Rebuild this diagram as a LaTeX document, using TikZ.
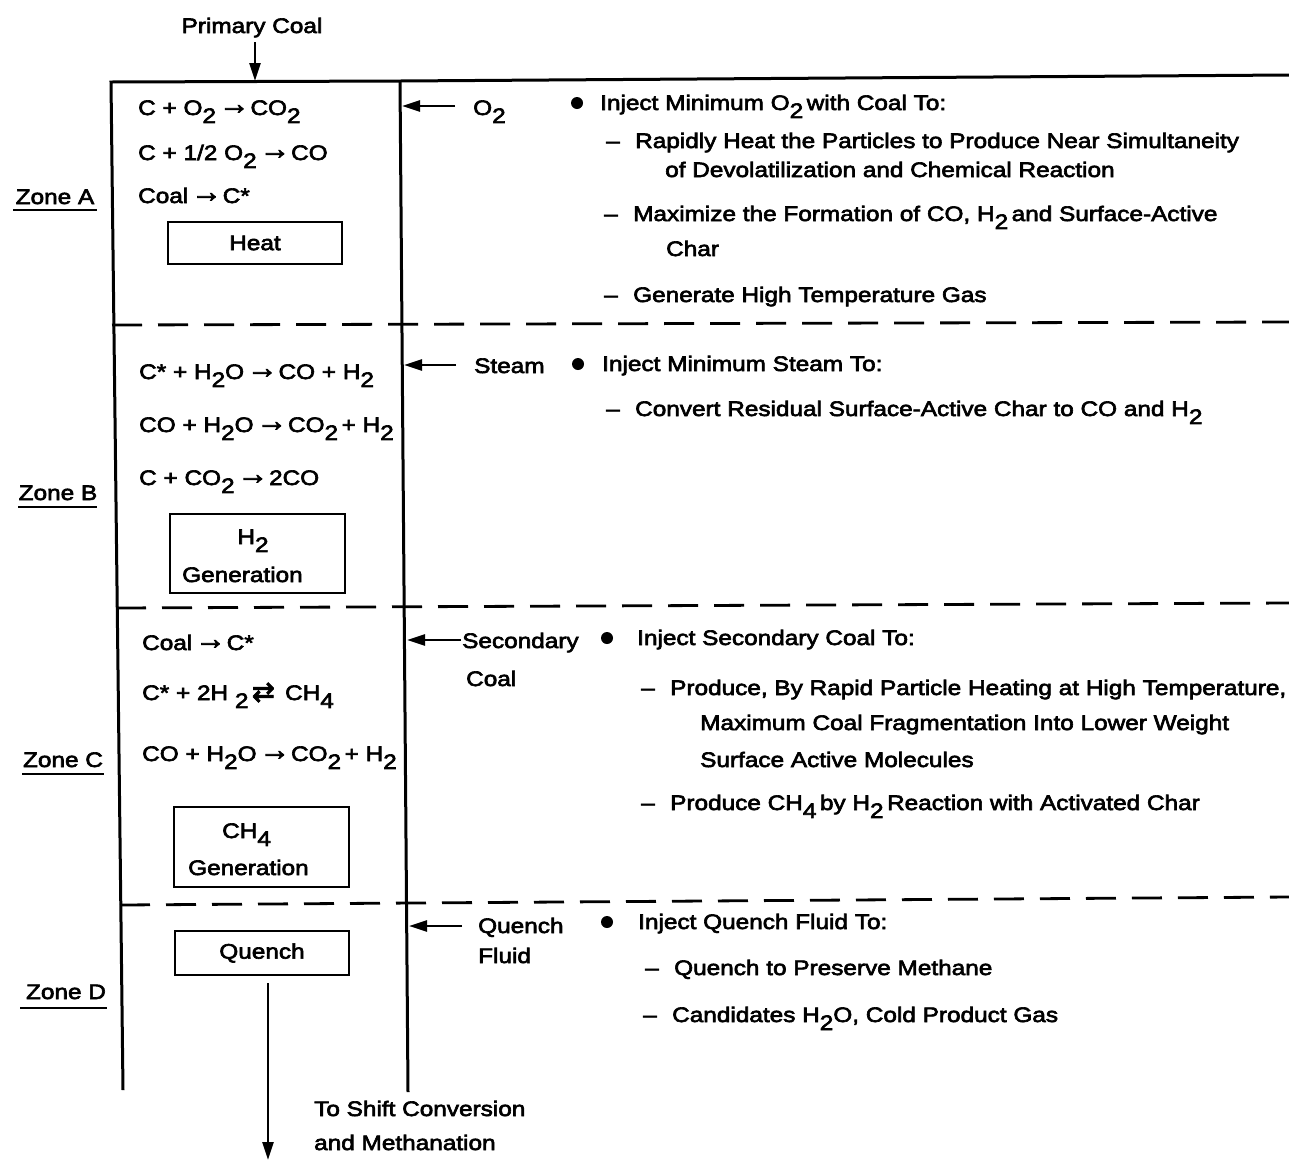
\documentclass[tikz,border=0pt]{standalone}
\usepackage{graphicx}
\usepackage{fontspec}
\setmainfont{Liberation Sans}[FakeStretch=1.16,FakeBold=3]
\newfontfamily\djv{DejaVu Sans}[FakeBold=3]
\usetikzlibrary{arrows.meta}
\newcommand{\sbs}[1]{\raisebox{-0.38em}{#1}}
\newcommand{\ra}{\hspace{3pt}\raisebox{0.05em}{\scalebox{1.25}[1.45]{→}}\hspace{1pt}}
\newcommand{\dsh}{\makebox[29pt][l]{–}}
\tikzset{
  txt/.style={font=\fontsize{21}{25}\selectfont, inner sep=0pt, anchor=base west},
  ctxt/.style={font=\fontsize{21}{25}\selectfont, inner sep=0pt, anchor=base},
  wall/.style={line width=3pt},
  zbox/.style={draw, line width=2.8pt, inner sep=0pt},
  arr/.style={line width=2.4pt, -{Triangle[length=18pt,width=11pt]}},
  zdash/.style={line width=2.8pt, dash pattern=on 30pt off 16pt},
  uline/.style={line width=2.6pt},
  bul/.style={circle, fill, inner sep=0pt, minimum size=12pt}
}
\begin{document}
\begin{tikzpicture}[x=1pt,y=-1pt]
\useasboundingbox (0,0) rectangle (1289,1160);

% reactor walls
\coordinate (tl) at (111,82);
\coordinate (tr) at (400,81);
\coordinate (bl) at (123,1090);
\coordinate (br) at (408,1092);
\coordinate (re) at (1289,75);
\draw[wall] (bl) -- (tl) -- (tr) -- (re);
\draw[wall] (tr) -- (br);

% zone boundaries
\draw[zdash] (112,325) -- (1289,322);
\draw[zdash] (116,608) -- (1289,603);
\draw[zdash] (120,905) -- (1289,897);

% primary coal
\node[ctxt] (pcoal) at (252,33) {Primary Coal};
\coordinate (pcin) at (255,81);
\draw[arr] (255,42) -- (pcin);

% zone labels
\node[ctxt] (zA) at (55,204) {Zone A};
\draw[uline] (13,210) -- (97,210);
\node[ctxt] (zB) at (58,500) {Zone B};
\draw[uline] (18,507) -- (97,507);
\node[ctxt] (zC) at (63,767) {Zone C};
\draw[uline] (22,774) -- (104,774);
\node[ctxt] (zD) at (66,999) {Zone D};
\draw[uline] (20,1008) -- (107,1008);

% Zone A equations
\node[txt] (a1) at (138,115) {C + O\sbs{2}\ra CO\sbs{2}};
\node[txt] (a2) at (138,160) {C + 1/2 O\sbs{2}\ra CO};
\node[txt] (a3) at (138,203) {Coal\ra C*};
\node[zbox, minimum width=174pt, minimum height=42pt, font=\fontsize{21}{25}\selectfont] (heat) at (255,243) {Heat};

% Zone B equations
\node[txt] (b1) at (139,379) {C* + H\sbs{2}O\ra CO + H\sbs{2}};
\node[txt] (b2) at (139,432) {CO + H\sbs{2}O\ra CO\sbs{2}\,+ H\sbs{2}};
\node[txt] (b3) at (139,485) {C + CO\sbs{2}\ra 2CO};
\node[zbox, minimum width=175pt, minimum height=79pt] (h2box) at (257.5,553.5) {};
\node[ctxt] (h2t) at (253,544) {H\sbs{2}};
\node[txt] (h2g) at (182,582) {Generation};

% Zone C equations
\node[txt] (c1) at (142,650) {Coal\ra C*};
\node[txt] (c2) at (142,700) {C* + 2H \sbs{2}\,\raisebox{-0.05em}{\scalebox{1.3}{\djv ⇄}}\, CH\sbs{4}};
\node[txt] (c3) at (142,761) {CO + H\sbs{2}O\ra CO\sbs{2}\,+ H\sbs{2}};
\node[zbox, minimum width=175pt, minimum height=80pt] (ch4box) at (261.5,847) {};
\node[txt] (ch4t) at (222,838) {CH\sbs{4}};
\node[txt] (ch4g) at (188,875) {Generation};

% Zone D
\node[zbox, minimum width=174pt, minimum height=44pt, font=\fontsize{21}{25}\selectfont] (quench) at (262,953) {Quench};
\coordinate (qout) at (268,983);
\coordinate (qend) at (268,1160);
\draw[arr] (qout) -- (qend);
\node[txt] (shift1) at (314,1116) {To Shift Conversion};
\node[txt] (shift2) at (314,1150) {and Methanation};

% side inlets
\coordinate (o2s) at (455,106);
\coordinate (o2e) at (402,106);
\draw[arr] (o2s) -- (o2e);
\node[txt] (o2) at (473,115) {O\sbs{2}};

\coordinate (sts) at (456,365);
\coordinate (ste) at (404,365);
\draw[arr] (sts) -- (ste);
\node[txt] (steam) at (474,373) {Steam};

\coordinate (scs) at (461,640);
\coordinate (sce) at (407,640);
\draw[arr] (scs) -- (sce);
\node[txt] (sec1) at (462,648) {Secondary};
\node[txt] (sec2) at (466,686) {Coal};

\coordinate (qfs) at (462,926);
\coordinate (qfe) at (409,926);
\draw[arr] (qfs) -- (qfe);
\node[txt] (qf1) at (478,933) {Quench};
\node[txt] (qf2) at (478,963) {Fluid};

% Zone A notes
\node[bul] (bA) at (577,103) {};
\node[txt] (nA0) at (600,110) {Inject Minimum O\sbs{2}\,with Coal To:};
\node[txt] (nA1) at (606,148) {\dsh Rapidly Heat the Particles to Produce Near Simultaneity};
\node[txt] (nA1b) at (665,177) {of Devolatilization and Chemical Reaction};
\node[txt] (nA2) at (604,221) {\dsh Maximize the Formation of CO, H\sbs{2}\,and Surface-Active};
\node[txt] (nA2b) at (666,256) {Char};
\node[txt] (nA3) at (604,302) {\dsh Generate High Temperature Gas};

% Zone B notes
\node[bul] (bB) at (578,364) {};
\node[txt] (nB0) at (602,371) {Inject Minimum Steam To:};
\node[txt] (nB1) at (606,416) {\dsh Convert Residual Surface-Active Char to CO and H\sbs{2}};

% Zone C notes
\node[bul] (bC) at (607,638) {};
\node[txt] (nC0) at (637,645) {Inject Secondary Coal To:};
\node[txt] (nC1) at (641,695) {\dsh Produce, By Rapid Particle Heating at High Temperature,};
\node[txt] (nC1b) at (700,730) {Maximum Coal Fragmentation Into Lower Weight};
\node[txt] (nC1c) at (700,767) {Surface Active Molecules};
\node[txt] (nC2) at (641,810) {\dsh Produce CH\sbs{4}\,by H\sbs{2}\,Reaction with Activated Char};

% Zone D notes
\node[bul] (bD) at (607,922) {};
\node[txt] (nD0) at (638,929) {Inject Quench Fluid To:};
\node[txt] (nD1) at (645,975) {\dsh Quench to Preserve Methane};
\node[txt] (nD2) at (643,1022) {\dsh Candidates H\sbs{2}O, Cold Product Gas};
\end{tikzpicture}
\end{document}
